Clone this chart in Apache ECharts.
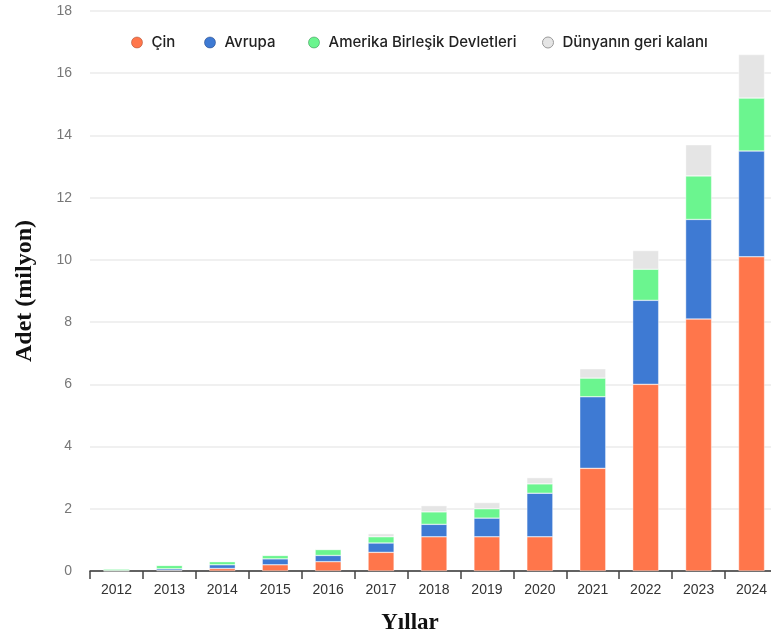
<!DOCTYPE html>
<html>
<head>
<meta charset="utf-8">
<script src="https://cdn.jsdelivr.net/npm/echarts@6/dist/echarts.min.js"></script>
<style>
  html, body { margin: 0; padding: 0; background: #fff; }
  #chart { width: 771px; height: 632px; }
</style>
</head>
<body>
<div id="chart"></div>
<script>
// Yıllık adetler (milyon)
const years = ['2012','2013','2014','2015','2016','2017','2018','2019','2020','2021','2022','2023','2024'];
const cin     = [0.005, 0.02, 0.08, 0.20, 0.30, 0.60, 1.10, 1.10, 1.10, 3.30, 6.00, 8.10, 10.10];
const avrupa  = [0.010, 0.05, 0.12, 0.19, 0.20, 0.30, 0.40, 0.60, 1.40, 2.30, 2.70, 3.20, 3.40];
const abd     = [0.050, 0.11, 0.10, 0.11, 0.19, 0.20, 0.40, 0.30, 0.30, 0.60, 1.00, 1.40, 1.70];
const dunya   = [0.000, 0.01, 0.01, 0.02, 0.02, 0.10, 0.20, 0.20, 0.20, 0.30, 0.60, 1.00, 1.40];
const yTicks  = { min: 0, max: 18, interval: 2 };

const seriesDefs = [
  { name: 'Çin', data: cin, color: '#FF764B', border: 'rgba(150,60,30,0.45)', legendLeft: 131 },
  { name: 'Avrupa', data: avrupa, color: '#3E7AD3', border: 'rgba(20,50,110,0.45)', legendLeft: 204 },
  { name: 'Amerika Birleşik Devletleri', data: abd, color: '#6BF58F', border: 'rgba(30,120,60,0.45)', legendLeft: 308 },
  { name: 'Dünyanın geri kalanı', data: dunya, color: '#E5E5E5', border: '#9a9a9a', legendLeft: 542 }
];

const chart = echarts.init(document.getElementById('chart'), null, { renderer: 'canvas' });

// one legend box per entry so each item sits at its own x
const legends = seriesDefs.map(s => ({
  left: s.legendLeft, top: 35, padding: 0,
  icon: 'circle',
  itemWidth: 11, itemHeight: 11,
  textStyle: { fontFamily: 'Inter', fontSize: 15, fontWeight: 500, color: '#222', padding: [0, 0, 0, 4] },
  data: [{ name: s.name, itemStyle: { color: s.color, borderColor: s.border, borderWidth: 1 } }]
}));

chart.setOption({
  animation: false,
  backgroundColor: '#fff',
  grid: { left: 90, right: -7, top: 11, bottom: 61, containLabel: false, outerBoundsMode: 'none' },
  legend: legends,
  xAxis: {
    type: 'category',
    data: years,
    name: 'Yıllar',
    nameLocation: 'middle',
    nameGap: 41,
    nameTextStyle: { fontFamily: 'Liberation Serif', fontWeight: 'bold', fontSize: 23, color: '#111', padding: [0, 48, 0, 0] },
    axisLine: { lineStyle: { color: '#333', width: 1.5 } },
    axisTick: { show: true, length: 8, lineStyle: { color: '#444', width: 1.5 } },
    axisLabel: { fontFamily: 'Liberation Sans', fontSize: 14, color: '#333', margin: 12 }
  },
  yAxis: {
    type: 'value',
    min: yTicks.min, max: yTicks.max, interval: yTicks.interval,
    name: 'Adet (milyon)',
    nameLocation: 'middle',
    nameGap: 53,
    nameRotate: 90,
    nameTextStyle: { fontFamily: 'Liberation Serif', fontWeight: 'bold', fontSize: 24, color: '#111' },
    axisLine: { show: false },
    axisTick: { show: false },
    splitLine: { lineStyle: { color: '#ebebeb', width: 1.5 } },
    axisLabel: { fontFamily: 'Liberation Sans', fontSize: 14, color: '#777', margin: 18 }
  },
  series: seriesDefs.map(s => ({
    name: s.name,
    type: 'bar',
    stack: 'toplam',
    barWidth: 26,
    data: s.data,
    itemStyle: { color: s.color, borderColor: 'rgba(255,255,255,0.8)', borderWidth: 0.5 },
    emphasis: { disabled: true }
  }))
});
</script>
</body>
</html>
